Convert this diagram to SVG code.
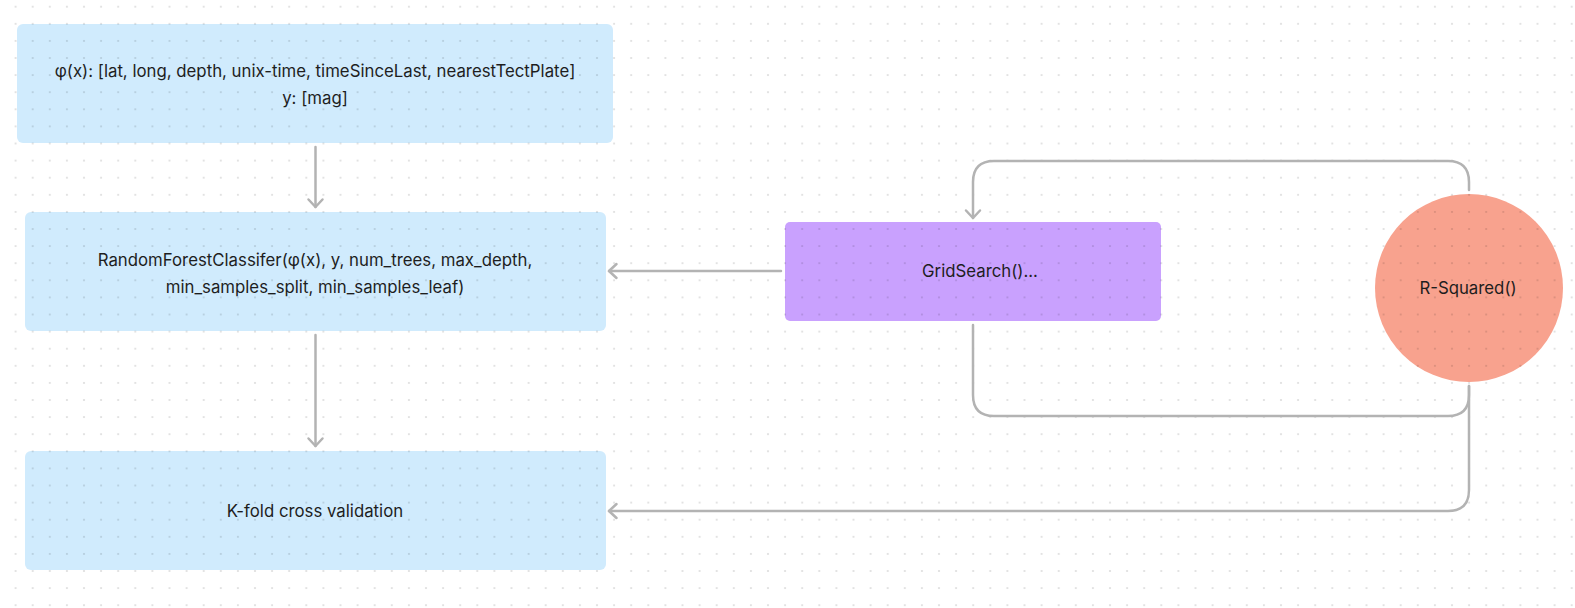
<svg xmlns="http://www.w3.org/2000/svg" width="1575" height="608" viewBox="0 0 1575 608">
  <defs>
    <pattern id="dots" x="15.6" y="6.7" width="17.1" height="17.1" patternUnits="userSpaceOnUse">
      <circle cx="0" cy="0" r="1" fill="#000" fill-opacity="0.14"/>
      <circle cx="17.1" cy="0" r="1" fill="#000" fill-opacity="0.14"/>
      <circle cx="0" cy="17.1" r="1" fill="#000" fill-opacity="0.14"/>
      <circle cx="17.1" cy="17.1" r="1" fill="#000" fill-opacity="0.14"/>
    </pattern>
    <marker id="arrow" markerUnits="userSpaceOnUse" markerWidth="20" markerHeight="20" refX="10" refY="10" orient="auto" overflow="visible">
      <path d="M2.5,3 L10,10 L2.5,17" fill="none" stroke="#b3b3b3" stroke-width="2.5" stroke-linecap="round" stroke-linejoin="round"/>
    </marker>
  </defs>
  <style>
    .box { fill: #d0ebfd; }
    .purple { fill: #c9a1fe; }
    .salmon { fill: #f8a28e; }
    .dots { fill: url(#dots); }
    .label { font-family: Inter, "Liberation Sans", sans-serif; font-size: 16.8px; fill: #1e1e1e; text-anchor: middle; dominant-baseline: central; }
    .conn { fill: none; stroke: #b3b3b3; stroke-width: 2.5; stroke-linecap: round; stroke-linejoin: round; }
  </style>
  <rect width="1575" height="608" fill="#ffffff"/>
  <rect width="1575" height="608" class="dots"/>

  <g id="features">
    <rect x="17" y="24" width="596" height="119" rx="6" class="box"/>
    <rect x="17" y="24" width="596" height="119" rx="6" class="dots"/>
    <text class="label" x="315" y="71">φ(x): [lat, long, depth, unix-time, timeSinceLast, nearestTectPlate]</text>
    <text class="label" x="315" y="98">y: [mag]</text>
  </g>

  <g id="random-forest">
    <rect x="25" y="212" width="581" height="119" rx="6" class="box"/>
    <rect x="25" y="212" width="581" height="119" rx="6" class="dots"/>
    <text class="label" x="315" y="260">RandomForestClassifer(φ(x), y, num_trees, max_depth,</text>
    <text class="label" x="315" y="287">min_samples_split, min_samples_leaf)</text>
  </g>

  <g id="kfold">
    <rect x="25" y="451" width="581" height="119" rx="6" class="box"/>
    <rect x="25" y="451" width="581" height="119" rx="6" class="dots"/>
    <text class="label" x="315" y="511">K-fold cross validation</text>
  </g>

  <g id="gridsearch">
    <rect x="785" y="222" width="376" height="99" rx="5" class="purple"/>
    <rect x="785" y="222" width="376" height="99" rx="5" class="dots"/>
    <text class="label" x="980" y="271">GridSearch()...</text>
  </g>

  <g id="rsquared">
    <circle cx="1469" cy="288" r="94" class="salmon"/>
    <circle cx="1469" cy="288" r="94" class="dots"/>
    <text class="label" x="1468" y="288">R-Squared()</text>
  </g>

  <g id="connectors">
    <path class="conn" d="M315.5,147 L315.5,207" marker-end="url(#arrow)"/>
    <path class="conn" d="M315.5,335 L315.5,446" marker-end="url(#arrow)"/>
    <path class="conn" d="M781,271 L609,271" marker-end="url(#arrow)"/>
    <path class="conn" d="M1469,190 L1469,182 Q1469,161 1448,161 L994,161 Q973,161 973,182 L973,218" marker-end="url(#arrow)"/>
    <path class="conn" d="M973,325 L973,395 Q973,416 994,416 L1448,416 Q1469,416 1469,395 L1469,386"/>
    <path class="conn" d="M1469,386 L1469,490 Q1469,511 1448,511 L609,511" marker-end="url(#arrow)"/>
  </g>
</svg>
